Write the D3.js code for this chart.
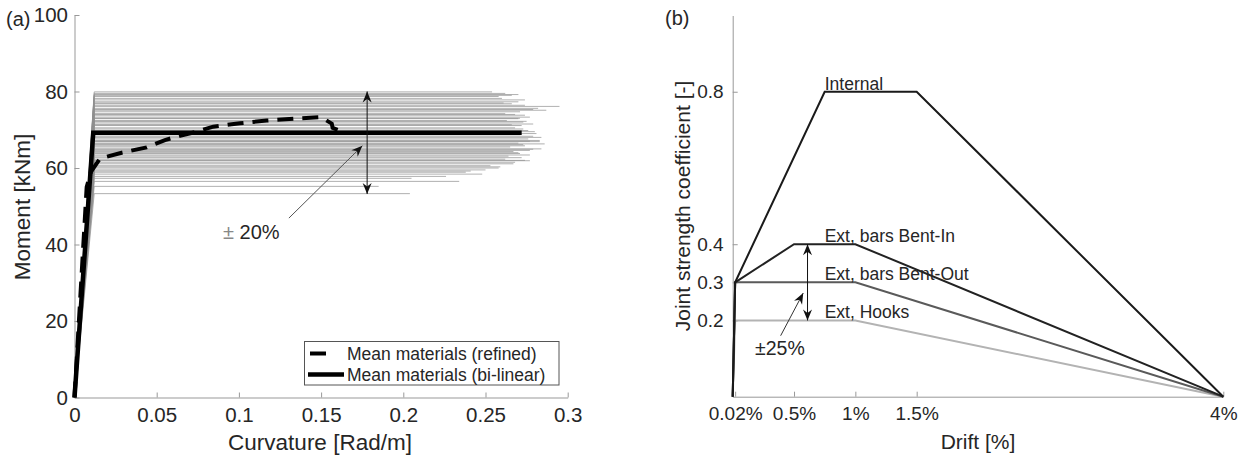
<!DOCTYPE html>
<html>
<head>
<meta charset="utf-8">
<script src="https://cdn.jsdelivr.net/npm/d3@7"></script>
<style>
  body { margin: 0; background: #fff; }
  svg { display: block; }
</style>
</head>
<body>
<script>
// Panel (a): moment-curvature, one grey bi-linear curve per material sample
const phiYield = 0.012;
const sampleMoment = [79.9, 79.5, 79.2, 78.7, 78.2, 77.8, 77.3, 76.8, 76.1, 75.6,
                      75.1, 74.7, 74.2, 73.8, 73.3, 72.9, 72.4, 72.0, 71.5, 71.1,
                      70.5, 69.8, 69.0, 68.3, 67.6, 67.2, 66.9, 66.5, 66.1, 65.5,
                      65.0, 64.6, 64.3, 63.8, 63.4, 62.7, 62.3, 61.9, 61.5, 61.1,
                      60.6, 60.0, 59.5, 58.9, 58.4, 57.3, 56.5, 55.2, 53.3,
                      79.0, 77.0, 76.4, 75.3, 74.0, 73.0, 72.2, 71.3, 70.2, 69.5,
                      68.7, 68.0, 67.0, 66.3, 65.8, 64.9, 64.0, 63.1, 62.0, 60.3,
                      59.2, 57.8];
const samplePhiU = [0.254, 0.262, 0.270, 0.258, 0.260, 0.274, 0.270, 0.266, 0.295, 0.282,
                    0.287, 0.271, 0.262, 0.274, 0.277, 0.270, 0.263, 0.273, 0.279, 0.272,
                    0.268, 0.276, 0.281, 0.279, 0.276, 0.283, 0.283, 0.270, 0.273, 0.265,
                    0.284, 0.277, 0.267, 0.271, 0.277, 0.272, 0.262, 0.277, 0.268, 0.267,
                    0.253, 0.258, 0.250, 0.238, 0.248, 0.205, 0.234, 0.185, 0.204,
                    0.266, 0.261, 0.274, 0.279, 0.268, 0.271, 0.275, 0.266, 0.273, 0.280,
                    0.271, 0.284, 0.277, 0.286, 0.274, 0.279, 0.270, 0.264, 0.274, 0.259,
                    0.241, 0.226];

const refinedPhi = [0, 0.0074, 0.010, 0.0156, 0.0287, 0.0439, 0.055, 0.0641, 0.0743, 0.0844,
                    0.1006, 0.1169, 0.1371, 0.150, 0.1565, 0.157, 0.164];
const refinedM   = [0, 55, 59, 62.5, 64.0, 65.4, 67.3, 68.4, 69.5, 70.8,
                    71.7, 72.4, 73.0, 73.3, 71.6, 70.5, 69.3];
const bilinearPhi = [0, 0.0114, 0.272];
const bilinearM   = [0, 69.2, 69.2];

const curvTicks = [0, 0.05, 0.1, 0.15, 0.2, 0.25, 0.3];
const momentTicks = [0, 20, 40, 60, 80, 100];

// Panel (b): joint strength backbones
const driftTicks = [0.02, 0.5, 1, 1.5, 4];
const driftTickLabels = ["0.02%", "0.5%", "1%", "1.5%", "4%"];
const coefTicks = [0.2, 0.3, 0.4, 0.8];
const jointNames = ["Ext, Hooks", "Ext, bars Bent-Out", "Ext, bars Bent-In", "Internal"];
const jointDrift = [[0, 0.02, 1, 4], [0, 0.02, 1, 4], [0, 0.02, 0.5, 1, 4], [0, 0.02, 0.75, 1.5, 4]];
const jointCoef  = [[0, 0.2, 0.2, 0], [0, 0.3, 0.3, 0], [0, 0.3, 0.4, 0.4, 0], [0, 0.3, 0.8, 0.8, 0]];
const jointColor = ["#b3b3b3", "#5a5a5a", "#222", "#1a1a1a"];
const labelDrift = 0.75;

const W = 1247, H = 458;
const textCol = "#262626", axisCol = "#999";
const svg = d3.select("body").append("svg")
    .attr("width", W).attr("height", H)
    .attr("font-family", "'Liberation Sans', Arial, Helvetica, sans-serif")
    .attr("fill", textCol);

const defs = svg.append("defs");
defs.append("marker")
    .attr("id", "head")
    .attr("markerUnits", "userSpaceOnUse")
    .attr("markerWidth", 14).attr("markerHeight", 12)
    .attr("refX", 0).attr("refY", 0)
    .attr("viewBox", "-12 -6 14 12")
    .attr("orient", "auto-start-reverse")
    .append("path")
    .attr("d", "M0,0L-11,-4.5L-7.5,0L-11,4.5Z")
    .attr("fill", "#111");

function styleAxis(g, size) {
    g.attr("font-family", null).attr("font-size", null);
    g.select(".domain").attr("stroke", axisCol);
    g.selectAll(".tick line").attr("stroke", axisCol);
    g.selectAll(".tick text").attr("fill", textCol).style("font-size", size + "px");
}

// ---------- panel (a) ----------
const xA = d3.scaleLinear().domain([0, 0.3]).range([74.5, 567.7]);
const yA = d3.scaleLinear().domain([0, 100]).range([397.5, 15]);
const lineA = d3.line().x(d => xA(d[0])).y(d => yA(d[1]));

const gA = svg.append("g");

gA.append("g")
    .attr("transform", `translate(0,${yA(0)})`)
    .call(d3.axisBottom(xA).tickValues(curvTicks).tickFormat(d3.format("~g"))
        .tickSize(-5).tickSizeOuter(0).tickPadding(10))
    .call(g => styleAxis(g, 20.5));
gA.append("g")
    .attr("transform", `translate(${xA(0)},0)`)
    .call(d3.axisLeft(yA).tickValues(momentTicks).tickSize(-5).tickSizeOuter(0).tickPadding(6.5))
    .call(g => styleAxis(g, 20.5));

gA.append("g")
    .attr("fill", "none")
    .attr("stroke", "#8f8f8f")
    .attr("stroke-opacity", 0.7)
    .attr("stroke-width", 1)
    .selectAll("path")
    .data(sampleMoment.map((m, i) => [[0, 0], [phiYield, m], [samplePhiU[i], m]]))
    .join("path")
    .attr("d", lineA);

gA.append("path")
    .attr("d", lineA(bilinearPhi.map((p, i) => [p, bilinearM[i]])))
    .attr("fill", "none").attr("stroke", "#000").attr("stroke-width", 4.5);
gA.append("path")
    .attr("d", lineA(refinedPhi.map((p, i) => [p, refinedM[i]])))
    .attr("fill", "none").attr("stroke", "#000").attr("stroke-width", 4)
    .attr("stroke-dasharray", "16,9");

// +/- 20% annotation
gA.append("line")
    .attr("x1", xA(0.178)).attr("x2", xA(0.178))
    .attr("y1", yA(80)).attr("y2", yA(53.2))
    .attr("stroke", "#111").attr("stroke-width", 1)
    .attr("marker-start", "url(#head)").attr("marker-end", "url(#head)");
gA.append("line")
    .attr("x1", xA(0.1304)).attr("y1", yA(46.9))
    .attr("x2", xA(0.1751)).attr("y2", yA(65.8))
    .attr("stroke", "#555").attr("stroke-width", 1)
    .attr("marker-end", "url(#head)");
const t20 = gA.append("text")
    .attr("x", 223).attr("y", 239)
    .style("font-size", "20px");
t20.append("tspan").attr("fill", "#888").text("\u00b1 ");
t20.append("tspan").text("20%");

// legend
const leg = gA.append("g");
leg.append("rect")
    .attr("x", 304.5).attr("y", 341.5).attr("width", 254.5).attr("height", 43.5)
    .attr("fill", "#fff").attr("stroke", "#555").attr("stroke-width", 1);
leg.append("line")
    .attr("x1", 310).attr("x2", 326).attr("y1", 353.5).attr("y2", 353.5)
    .attr("stroke", "#000").attr("stroke-width", 4);
leg.append("line")
    .attr("x1", 308).attr("x2", 344).attr("y1", 374.5).attr("y2", 374.5)
    .attr("stroke", "#000").attr("stroke-width", 4.5);
leg.append("text").attr("x", 347).attr("y", 359.5).style("font-size", "17.5px")
    .text("Mean materials (refined)");
leg.append("text").attr("x", 347).attr("y", 380.5).style("font-size", "17.5px")
    .text("Mean materials (bi-linear)");

// titles
svg.append("text").attr("x", 320).attr("y", 450).attr("text-anchor", "middle")
    .style("font-size", "22.5px").text("Curvature [Rad/m]");
svg.append("text").attr("transform", "translate(30,207) rotate(-90)").attr("text-anchor", "middle")
    .style("font-size", "22.5px").text("Moment [kNm]");
svg.append("text").attr("x", 6).attr("y", 26).style("font-size", "20px").text("(a)");

// ---------- panel (b) ----------
const xB = d3.scaleLinear().domain([0, 4]).range([732.7, 1223.3]);
const yB = d3.scaleLinear().domain([0, 1]).range([396.7, 15.5]);
const lineB = d3.line().x(d => xB(d[0])).y(d => yB(d[1]));

const gB = svg.append("g");
gB.append("g")
    .attr("transform", `translate(0,${yB(0)})`)
    .call(d3.axisBottom(xB).tickValues(driftTicks).tickFormat((d, i) => driftTickLabels[i])
        .tickSize(-5).tickSizeOuter(0).tickPadding(10))
    .call(g => styleAxis(g, 19));
gB.append("g")
    .attr("transform", `translate(${xB(0)},0)`)
    .call(d3.axisLeft(yB).tickValues(coefTicks).tickSize(-5).tickSizeOuter(0).tickPadding(9))
    .call(g => styleAxis(g, 19));

gB.append("g")
    .attr("fill", "none")
    .attr("stroke-width", 2)
    .selectAll("path")
    .data(jointNames.map((n, i) => jointDrift[i].map((d, j) => [d, jointCoef[i][j]])))
    .join("path")
    .attr("stroke", (d, i) => jointColor[i])
    .attr("d", lineB);

gB.append("g")
    .selectAll("text")
    .data(jointNames)
    .join("text")
    .attr("x", xB(labelDrift))
    .attr("y", (d, i) => yB(d3.max(jointCoef[i])) - 2)
    .style("font-size", "17.5px")
    .text(d => d);

// +/- 25% annotation
gB.append("line")
    .attr("x1", xB(0.61)).attr("x2", xB(0.61))
    .attr("y1", yB(0.4)).attr("y2", yB(0.2))
    .attr("stroke", "#111").attr("stroke-width", 1)
    .attr("marker-start", "url(#head)").attr("marker-end", "url(#head)");
gB.append("line")
    .attr("x1", xB(0.391)).attr("y1", yB(0.16))
    .attr("x2", xB(0.575)).attr("y2", yB(0.272))
    .attr("stroke", "#333").attr("stroke-width", 1)
    .attr("marker-end", "url(#head)");
gB.append("text")
    .attr("x", 755).attr("y", 355)
    .style("font-size", "19.5px")
    .text("\u00b125%");

svg.append("text").attr("x", 978).attr("y", 449).attr("text-anchor", "middle")
    .style("font-size", "21px").text("Drift [%]");
svg.append("text").attr("transform", "translate(690,206) rotate(-90)").attr("text-anchor", "middle")
    .style("font-size", "21px").text("Joint strength coefficient [-]");
svg.append("text").attr("x", 665).attr("y", 25).style("font-size", "20px").text("(b)");
</script>
</body>
</html>
